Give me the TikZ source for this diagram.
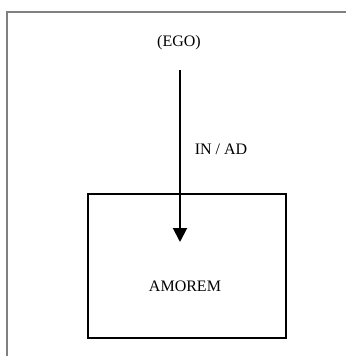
\documentclass[tikz,border=0pt]{standalone}
\usepackage{fontspec}
\setmainfont{Liberation Serif}
\usetikzlibrary{arrows.meta,positioning}

\begin{document}
\begin{tikzpicture}[x=1pt,y=-1pt,font=\fontsize{16}{19}\selectfont]
\useasboundingbox (0,0) rectangle (346,356);
\draw[gray,line width=1.5pt] (7,356) -- (7,12) -- (346,12);
\node (ego) at (179,43) {(EGO)};
\node[draw,line width=2pt,minimum width=198pt,minimum height=144pt] (box) at (187,266) {};
\node (amorem) at (185,286) {AMOREM};
\node (inad) at (221,149) {IN / AD};
\coordinate (s) at (180,70);
\coordinate (t) at (180,242);
\path[-{Triangle[length=14pt,width=14pt]},line width=2pt]
(s) edge (t);
\end{tikzpicture}
\end{document}
